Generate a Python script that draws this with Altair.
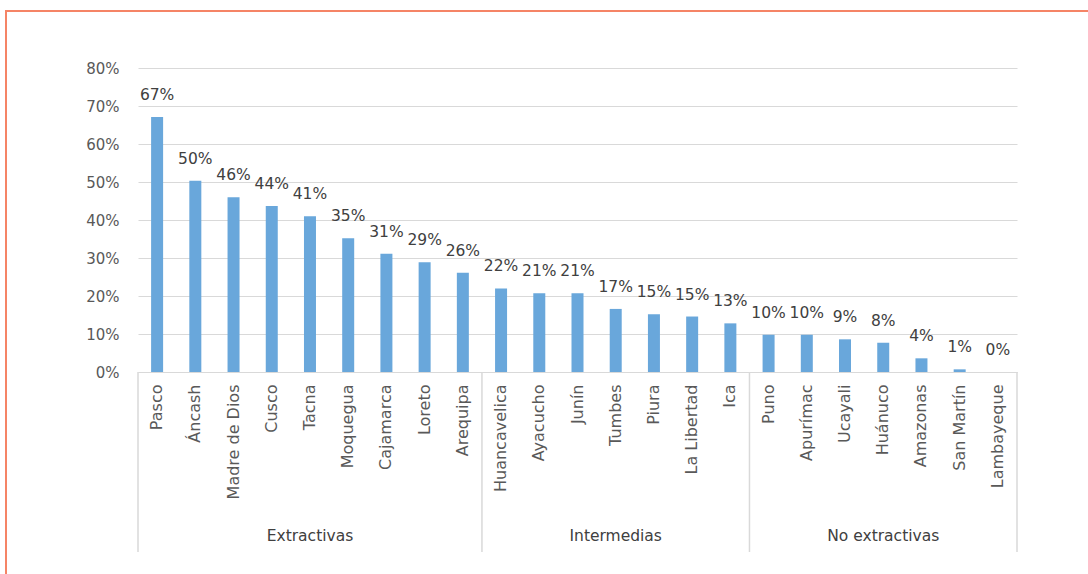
import altair as alt
import pandas as pd

departamentos = ["Pasco", "Áncash", "Madre de Dios", "Cusco", "Tacna", "Moquegua",
                 "Cajamarca", "Loreto", "Arequipa",
                 "Huancavelica", "Ayacucho", "Junín", "Tumbes", "Piura", "La Libertad", "Ica",
                 "Puno", "Apurímac", "Ucayali", "Huánuco", "Amazonas", "San Martín", "Lambayeque"]
valores = [0.671, 0.503, 0.460, 0.437, 0.410, 0.352, 0.311, 0.289, 0.261,
           0.220, 0.207, 0.207, 0.166, 0.152, 0.146, 0.128,
           0.098, 0.098, 0.086, 0.077, 0.036, 0.007, 0.0]
grupos_nombres = ["Extractivas", "Intermedias", "No extractivas"]
grupos_tam = [9, 7, 7]
ticks_y = [0, 0.1, 0.2, 0.3, 0.4, 0.5, 0.6, 0.7, 0.8]

grupo_col = []
for g, n in zip(grupos_nombres, grupos_tam):
    grupo_col += [g] * n

df = pd.DataFrame({"Departamento": departamentos, "Valor": valores, "Grupo": grupo_col})

# group helpers
starts, centers = [], []
i = 0
for g, n in zip(grupos_nombres, grupos_tam):
    starts.append(departamentos[i])
    centers.append(departamentos[i + n // 2])
    i += n
df_start = pd.DataFrame({"Departamento": starts})
df_end = pd.DataFrame({"Departamento": [departamentos[-1]]})
df_lab = pd.DataFrame({"Departamento": centers, "Grupo": grupos_nombres})

W, H = 879, 304
FONT = "DejaVu Sans"
GRID = "#d9d9d9"

xscale = alt.Scale(domain=departamentos, paddingInner=0, paddingOuter=0)
xaxis = alt.Axis(title=None, labelAngle=-90, labelPadding=12, ticks=False,
                 domainColor=GRID, labelColor="#595959", labelFont=FONT,
                 labelFontSize=16, labelOverlap=False)
yaxis = alt.Axis(title=None, format=".0%", values=ticks_y, tickCount=20,
                 labelOverlap=False, domain=False, ticks=False, gridColor=GRID,
                 labelPadding=19, labelColor="#595959", labelFont=FONT, labelFontSize=15)
yscale = alt.Scale(domain=[0, 0.8], nice=False)

x_enc = alt.X("Departamento:N", sort=None, scale=xscale, axis=xaxis)
y_enc = alt.Y("Valor:Q", scale=yscale, axis=yaxis)

bars = alt.Chart(df).mark_bar(width=12, color="#69a7db").encode(x=x_enc, y=y_enc)

labels = alt.Chart(df).mark_text(baseline="alphabetic", dy=-17, font=FONT, fontSize=15.5,
                                 color="#404040").encode(
    x=x_enc, y=y_enc,
    text=alt.Text("Valor:Q", format=".0%"))

sep_start = alt.Chart(df_start).mark_rule(color=GRID, strokeWidth=1.5).encode(
    x=alt.X("Departamento:N", sort=None, scale=xscale, axis=xaxis, bandPosition=0),
    y=alt.value(H), y2=alt.value(H + 180))
sep_end = alt.Chart(df_end).mark_rule(color=GRID, strokeWidth=1.5).encode(
    x=alt.X("Departamento:N", sort=None, scale=xscale, axis=xaxis, bandPosition=1),
    y=alt.value(H), y2=alt.value(H + 180))

grp_text = alt.Chart(df_lab).mark_text(baseline="middle", font=FONT, fontSize=15.5,
                                       color="#404040").encode(
    x=x_enc,
    y=alt.value(H + 164),
    text="Grupo:N")

border = alt.Chart(pd.DataFrame({"b": [0]})).mark_rect(
    fill=None, stroke="#f58466", strokeWidth=2).encode(
    x=alt.value(-132), x2=alt.value(W + 200),
    y=alt.value(-57), y2=alt.value(H + 300))

chart = alt.layer(bars, labels, sep_start, sep_end, grp_text, border).properties(
    width=W, height=H,
    autosize=alt.AutoSizeParams(type="none"),
    padding={"left": 138, "top": 68, "right": 71, "bottom": 202},
    background="white",
).configure_view(stroke=None)

chart.save("out.html", embed_options={"renderer": "svg", "actions": False})
